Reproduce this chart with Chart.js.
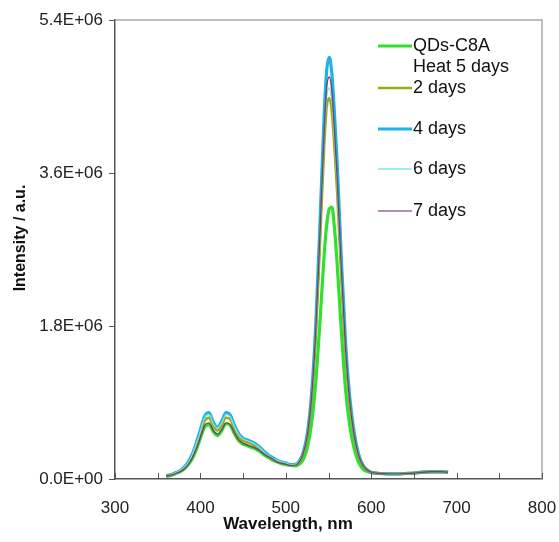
<!DOCTYPE html>
<html>
<head>
<meta charset="utf-8">
<script src="https://cdn.jsdelivr.net/npm/chart.js@4/dist/chart.umd.min.js"></script>
<style>
html,body{margin:0;padding:0;background:#fff;}
#wrap{width:559px;height:542px;position:relative;}
</style>
</head>
<body>
<div id="wrap"><canvas id="c" width="559" height="542"></canvas></div>
<script>
// Wavelength (nm)
const wavelengths = [
  360,365,370,375,380,385,390,395,400,405,
  410,415,420,425,430,435,440,445,450,455,
  460,465,470,475,480,485,490,495,500,505,
  510,515,520,525,530,535,540,545,548,551,
  554,557,560,565,570,575,580,585,590,595,
  600,610,620,630,640,650,660,670,680,690
];
// Intensities in units of 1E+06 a.u.
const qdsC8A = [
  0.03,0.04,0.06,0.08,0.11,0.16,0.23,0.34,0.48,0.61,
  0.64,0.56,0.51,0.57,0.65,0.63,0.53,0.45,0.41,0.39,
  0.37,0.35,0.32,0.28,0.25,0.22,0.20,0.18,0.17,0.16,
  0.155,0.17,0.22,0.36,0.64,1.13,1.85,2.65,3.00,3.18,
  3.20,2.95,2.55,1.75,1.05,0.62,0.36,0.20,0.12,0.09,
  0.075,0.065,0.06,0.06,0.065,0.07,0.08,0.085,0.085,0.08
];
const days2 = [
  0.04,0.05,0.065,0.085,0.12,0.17,0.26,0.38,0.53,0.68,
  0.72,0.62,0.57,0.63,0.72,0.70,0.59,0.50,0.45,0.43,
  0.41,0.38,0.34,0.30,0.26,0.23,0.21,0.19,0.18,0.165,
  0.165,0.19,0.28,0.48,0.90,1.65,2.75,3.90,4.38,4.48,
  4.30,3.88,3.38,2.35,1.45,0.86,0.50,0.28,0.16,0.105,
  0.08,0.065,0.06,0.06,0.065,0.07,0.08,0.085,0.085,0.08
];
const days4 = [
  0.04,0.05,0.07,0.09,0.13,0.19,0.28,0.42,0.58,0.74,
  0.78,0.67,0.61,0.68,0.78,0.75,0.63,0.53,0.48,0.46,
  0.44,0.41,0.37,0.32,0.28,0.25,0.22,0.20,0.19,0.17,
  0.17,0.20,0.30,0.52,0.98,1.80,3.00,4.30,4.82,4.96,
  4.76,4.30,3.75,2.60,1.60,0.95,0.55,0.30,0.17,0.11,
  0.08,0.065,0.06,0.06,0.065,0.07,0.08,0.085,0.085,0.08
];
const days6 = [
  0.04,0.05,0.07,0.09,0.13,0.18,0.27,0.41,0.56,0.72,
  0.76,0.65,0.60,0.66,0.76,0.73,0.61,0.52,0.47,0.45,
  0.43,0.40,0.36,0.31,0.27,0.24,0.22,0.20,0.19,0.17,
  0.17,0.20,0.29,0.50,0.93,1.70,2.82,4.02,4.50,4.60,
  4.42,3.99,3.48,2.42,1.49,0.88,0.51,0.29,0.165,0.11,
  0.08,0.065,0.06,0.06,0.065,0.07,0.08,0.085,0.085,0.08
];
const days7 = [
  0.035,0.045,0.06,0.08,0.11,0.16,0.24,0.35,0.49,0.63,
  0.66,0.57,0.53,0.58,0.66,0.64,0.54,0.46,0.42,0.40,
  0.38,0.36,0.33,0.29,0.26,0.23,0.20,0.185,0.175,0.16,
  0.16,0.19,0.29,0.50,0.94,1.72,2.88,4.10,4.62,4.73,
  4.55,4.10,3.58,2.48,1.53,0.90,0.52,0.29,0.165,0.11,
  0.08,0.065,0.06,0.06,0.065,0.07,0.08,0.085,0.085,0.08
];
const seriesNames = ['QDs-C8A\nHeat 5 days','2 days','4 days','6 days','7 days'];
const yTicks = [0, 1.8e6, 3.6e6, 5.4e6];
const xLabels = [300,400,500,600,700,800];
const xTitle = 'Wavelength, nm';
const yTitle = 'Intensity / a.u.';

const FONT = '"Liberation Sans", Arial, sans-serif';
const pts = arr => wavelengths.map((w,i)=>({x:w, y:arr[i]*1e6}));

const styles = [
  {c:'#2fe02f', w:3.2, o:5},
  {c:'#9aaa10', w:2.4, o:3},
  {c:'#1fb2e4', w:3.2, o:4},
  {c:'#80e4e4', w:1.3, o:2},
  {c:'#74436f', w:1.4, o:1}
];
const seriesData = [qdsC8A, days2, days4, days6, days7];

function fmtExp(v){
  const s = Number(v).toExponential(1).toUpperCase();
  const [m,e] = s.split('E');
  const sign = e[0]==='-' ? '-' : '+';
  let d = e.replace(/[+-]/,'');
  if (d.length<2) d = '0'+d;
  return m+'E'+sign+d;
}

const deco = {
  id:'deco',
  afterDraw(chart){
    const ctx = chart.ctx, a = chart.chartArea;
    const xs = chart.scales.x;
    ctx.save();
    // top and right border
    ctx.strokeStyle = '#a8a8a8';
    ctx.lineWidth = 1.5;
    ctx.beginPath();
    ctx.moveTo(a.left, a.top); ctx.lineTo(a.right, a.top); ctx.lineTo(a.right, a.bottom);
    ctx.stroke();
    // inward x ticks
    ctx.strokeStyle = '#555';
    ctx.lineWidth = 1;
    xs.ticks.forEach(t=>{
      const px = Math.round(xs.getPixelForValue(t.value))+0.5;
      ctx.beginPath(); ctx.moveTo(px, a.bottom); ctx.lineTo(px, a.bottom-6); ctx.stroke();
    });
    // axis titles
    ctx.fillStyle = '#111';
    ctx.font = 'bold 17px '+FONT;
    ctx.textAlign = 'center'; ctx.textBaseline = 'middle';
    ctx.fillText(xTitle, 288, 524);
    ctx.save();
    ctx.translate(21, 238); ctx.rotate(-Math.PI/2);
    ctx.font = 'bold 16px '+FONT;
    ctx.fillText(yTitle, 0, 0);
    ctx.restore();
    // legend
    const ys = [46, 88, 129, 169, 211];
    ctx.font = '18px '+FONT;
    ctx.textAlign = 'left'; ctx.textBaseline = 'middle';
    chart.data.datasets.forEach((ds,i)=>{
      const y = ys[i];
      ctx.strokeStyle = i===4 ? '#9a6a98' : ds.borderColor;
      ctx.lineWidth = ds.borderWidth;
      ctx.beginPath(); ctx.moveTo(378, y); ctx.lineTo(412, y); ctx.stroke();
      ctx.fillStyle = '#111';
      const lines = ds.label.split('\n');
      lines.forEach((ln,k)=> ctx.fillText(ln, 413, y + k*21));
    });
    ctx.restore();
  }
};

new Chart(document.getElementById('c'), {
  type:'line',
  data:{
    datasets: seriesData.map((arr,i)=>({
      label: seriesNames[i],
      data: pts(arr),
      borderColor: styles[i].c,
      borderWidth: styles[i].w,
      order: styles[i].o,
      pointRadius:0,
      fill:false,
      cubicInterpolationMode:'monotone'
    }))
  },
  plugins:[deco],
  options:{
    responsive:false,
    animation:false,
    layout:{padding:{left:0, right:17, top:20, bottom:0}},
    plugins:{legend:{display:false}, tooltip:{enabled:false}},
    scales:{
      x:{
        type:'linear', min:300, max:800,
        afterFit(s){ s.height = 63; s.paddingLeft = 0; s.paddingRight = 0; },
        ticks:{
          stepSize:50, autoSkip:false, maxRotation:0, padding:19,
          color:'#222', font:{family:FONT, size:17},
          callback:v=> xLabels.includes(v) ? String(v) : ''
        },
        grid:{display:true, drawOnChartArea:false, drawTicks:false},
        border:{display:true, color:'#555', width:1.5}
      },
      y:{
        type:'linear', min:0, max:5.4e6,
        afterFit(s){ s.width = 115; s.paddingTop = 0; s.paddingBottom = 0; },
        afterBuildTicks(s){ s.ticks = yTicks.map(v=>({value:v})); },
        ticks:{
          padding:6, color:'#222', font:{family:FONT, size:17},
          callback:v=>fmtExp(v)
        },
        grid:{display:true, drawOnChartArea:false, drawTicks:true, tickLength:6, color:'#555'},
        border:{display:true, color:'#555', width:1.5}
      }
    }
  }
});
</script>
</body>
</html>
